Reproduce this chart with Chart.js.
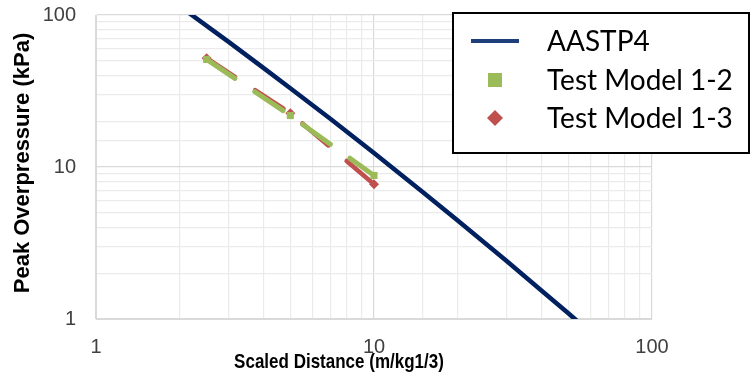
<!DOCTYPE html>
<html>
<head>
<meta charset="utf-8">
<script src="https://cdn.jsdelivr.net/npm/chart.js@4.4.1/dist/chart.umd.min.js"></script>
<style>
  html, body { margin: 0; padding: 0; background: #fff; }
  #blast { display: block; }
</style>
</head>
<body>
<canvas id="blast" width="751" height="376"></canvas>
<script>
// AASTP4 reference curve
var aastpDist = [2, 3, 4, 5, 7, 10, 15, 20, 30, 40, 50, 60]
var aastpPres = [114.3, 66.5, 44.9, 33.0, 20.6, 12.35, 6.83, 4.45, 2.41, 1.54, 1.09, 0.817]

// test results
var testDist = [2.5, 5, 10]
var model12 = [51, 21.8, 8.8]
var model13 = [52, 22.6, 7.7]

var seriesNames = ['AASTP4', 'Test Model 1-2', 'Test Model 1-3']
var decadeTicks = [1, 10, 100]

function pts(xs, ys) {
  var out = []
  for (var i = 0; i < xs.length; i++) out.push({ x: xs[i], y: ys[i] })
  return out
}

var navy = '#002060'
var green = '#9bbb59'
var red = '#c0504d'

function isDecade(v) {
  return decadeTicks.indexOf(v) >= 0
}

function gridColor(c) {
  if (!c.tick) return '#ebebeb'
  return isDecade(c.tick.value) ? '#d9d9d9' : '#ebebeb'
}

// titles and the boxed legend are drawn by hand
var extras = {
  id: 'extras',
  afterDraw: function (chart) {
    var g = chart.ctx
    g.save()
    g.fillStyle = '#000'
    g.textAlign = 'center'
    g.textBaseline = 'middle'
    g.save()
    g.translate(339, 362)
    g.scale(1, 1.24)
    g.font = 'bold 17px "Liberation Sans", Arial, sans-serif'
    g.fillText('Scaled Distance (m/kg1/3)', 0, 0)
    g.restore()

    g.translate(23, 163)
    g.rotate(-Math.PI / 2)
    g.font = 'bold 22px "Liberation Sans", Arial, sans-serif'
    g.fillText('Peak Overpressure (kPa)', 0, 0)
    g.restore()

    // legend box
    g.save()
    g.fillStyle = '#fff'
    g.fillRect(453, 13, 296, 140)
    g.strokeStyle = '#000'
    g.lineWidth = 2
    g.strokeRect(453, 13, 296, 140)

    var rows = [41, 80, 118]
    g.strokeStyle = '#1f3f7a'
    g.lineWidth = 4
    g.beginPath()
    g.moveTo(471, rows[0])
    g.lineTo(519, rows[0])
    g.stroke()

    g.fillStyle = green
    g.fillRect(488, rows[1] - 7, 14, 14)

    g.fillStyle = red
    g.beginPath()
    g.moveTo(495, rows[2] - 8)
    g.lineTo(503, rows[2])
    g.lineTo(495, rows[2] + 8)
    g.lineTo(487, rows[2])
    g.closePath()
    g.fill()

    g.fillStyle = '#000'
    g.font = '28px Lato, "Noto Sans", sans-serif'
    g.textAlign = 'left'
    g.textBaseline = 'middle'
    for (var i = 0; i < seriesNames.length; i++) {
      g.fillText(seriesNames[i], 547, rows[i] + 1)
    }
    g.restore()
  }
}

var tickFont = { family: '"Liberation Sans", Arial, sans-serif', size: 20 }

new Chart(document.getElementById('blast'), {
  type: 'scatter',
  data: {
    datasets: [
      {
        label: seriesNames[1],
        data: pts(testDist, model12),
        showLine: true,
        borderColor: green,
        backgroundColor: green,
        borderWidth: 5,
        borderDash: [34, 24],
        borderCapStyle: 'round',
        pointStyle: 'rect',
        pointRadius: 5,
        pointBorderWidth: 0
      },
      {
        label: seriesNames[2],
        data: pts(testDist, model13),
        showLine: true,
        borderColor: red,
        backgroundColor: red,
        borderWidth: 4.5,
        borderDash: [34, 24],
        borderCapStyle: 'round',
        pointStyle: 'rectRot',
        pointRadius: 5,
        pointBorderWidth: 0
      },
      {
        label: seriesNames[0],
        data: pts(aastpDist, aastpPres),
        showLine: true,
        borderColor: navy,
        borderWidth: 4.5,
        pointRadius: 0
      }
    ]
  },
  options: {
    responsive: false,
    devicePixelRatio: 1,
    animation: false,
    layout: { padding: { left: 0, right: 99, top: 0, bottom: 0 } },
    plugins: {
      legend: { display: false },
      tooltip: { enabled: false }
    },
    scales: {
      x: {
        type: 'logarithmic',
        min: 1,
        max: 100,
        afterFit: function (s) { s.height = 57 },
        border: { color: '#d9d9d9' },
        grid: { color: gridColor, lineWidth: 1.2, drawTicks: false },
        ticks: {
          autoSkip: false,
          maxRotation: 0,
          padding: 16,
          color: '#404040',
          font: tickFont,
          callback: function (v) { return isDecade(v) ? String(v) : '' }
        }
      },
      y: {
        type: 'logarithmic',
        min: 1,
        max: 100,
        afterFit: function (s) {
          s.width = 96
          s.paddingTop = 15
          s.paddingBottom = 0
        },
        border: { color: '#d9d9d9' },
        grid: { color: gridColor, lineWidth: 1.2, drawTicks: false },
        ticks: {
          autoSkip: false,
          padding: 20,
          color: '#404040',
          font: tickFont,
          callback: function (v) { return isDecade(v) ? String(v) : '' }
        }
      }
    }
  },
  plugins: [extras]
})
</script>
</body>
</html>
